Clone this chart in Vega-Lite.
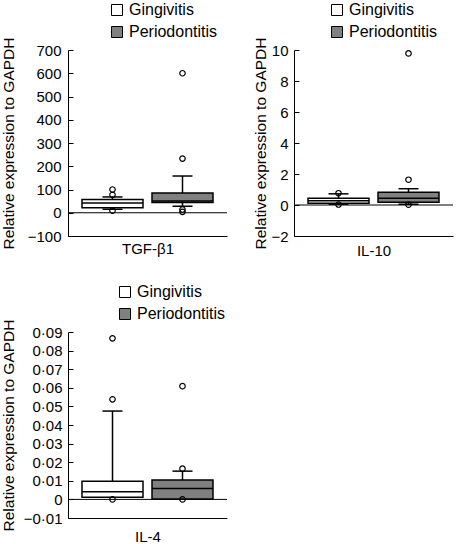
{
  "$schema": "https://vega.github.io/schema/vega-lite/v6.json",
  "padding": {"left": 0, "top": 2, "right": 0, "bottom": 0},
  "background": "white",
  "config": {
    "font": "Liberation Sans",
    "view": {"stroke": null},
    "axis": {"labelColor": "black", "titleColor": "black", "titleFontWeight": "normal", "domainColor": "black", "tickColor": "black", "labelFontSize": 15, "titleFontSize": 15.5, "domainWidth": 1},
    "legend": {"labelColor": "black", "labelFontSize": 16}
  },
  "datasets": {
    "tgf_box": [
      {"group": "Gingivitis", "q1": 22, "median": 42, "q3": 57, "lo": 15, "hi": 68},
      {"group": "Periodontitis", "q1": 44, "median": 51, "q3": 85, "lo": 28, "hi": 158}
    ],
    "tgf_out": [
      {"group": "Gingivitis", "value": 100},
      {"group": "Gingivitis", "value": 77},
      {"group": "Gingivitis", "value": 9},
      {"group": "Periodontitis", "value": 600},
      {"group": "Periodontitis", "value": 233},
      {"group": "Periodontitis", "value": 14},
      {"group": "Periodontitis", "value": 4}
    ],
    "il10_box": [
      {"group": "Gingivitis", "q1": 0.11, "median": 0.28, "q3": 0.43, "lo": 0.05, "hi": 0.72},
      {"group": "Periodontitis", "q1": 0.17, "median": 0.43, "q3": 0.82, "lo": 0.05, "hi": 1.05}
    ],
    "il10_out": [
      {"group": "Gingivitis", "value": 0.76},
      {"group": "Gingivitis", "value": 0.03},
      {"group": "Periodontitis", "value": 9.78},
      {"group": "Periodontitis", "value": 1.63},
      {"group": "Periodontitis", "value": 0.02}
    ],
    "il4_box": [
      {"group": "Gingivitis", "q1": 0.0012, "median": 0.0041, "q3": 0.0098, "lo": 0.0012, "hi": 0.0475},
      {"group": "Periodontitis", "q1": 0.0002, "median": 0.0059, "q3": 0.0104, "lo": 0.0002, "hi": 0.0152}
    ],
    "il4_out": [
      {"group": "Gingivitis", "value": 0.0866},
      {"group": "Gingivitis", "value": 0.0538},
      {"group": "Gingivitis", "value": 0.0},
      {"group": "Periodontitis", "value": 0.0609},
      {"group": "Periodontitis", "value": 0.0165},
      {"group": "Periodontitis", "value": 0.0}
    ],
    "zero": [{"y": 0}]
  },
  "columns": 2,
  "spacing": {"row": 96, "column": 67},
  "bounds": "flush",
  "align": "all",
  "resolve": {"scale": {"fill": "independent", "y": "independent", "x": "independent"}, "legend": {"fill": "independent"}},
  "concat": [
    {
      "width": 159, "height": 186,
      "encoding": {
        "x": {"field": "group", "type": "nominal", "title": "TGF-β1", "scale": {"domain": ["Gingivitis", "Periodontitis"], "paddingInner": 0.1286, "paddingOuter": 0.2}, "axis": {"labels": false, "ticks": false, "grid": false, "titlePadding": 5, "titleFontSize": 15, "titleBaseline": "top"}}
      },
      "layer": [
        {"data": {"name": "zero"}, "mark": {"type": "rule", "color": "black", "strokeWidth": 1}, "encoding": {"x": null, "y": {"field": "y", "type": "quantitative", "title": "Relative expression to GAPDH", "scale": {"domain": [-100, 700], "nice": false, "zero": false}, "axis": {"values": [-100, 0, 100, 200, 300, 400, 500, 600, 700], "format": "d", "tickCount": 20, "labelOverlap": false, "ticks": false, "grid": true, "gridColor": "black", "gridWidth": 1, "gridDash": [5, 400], "gridOpacity": 1, "labelPadding": 7, "titleX": -55, "titleBaseline": "alphabetic"}}}},
        {"data": {"name": "tgf_box"}, "mark": {"type": "rule", "color": "black", "strokeWidth": 1.5}, "encoding": {
          "y": {"field": "lo", "type": "quantitative", "title": "Relative expression to GAPDH"}, "y2": {"field": "hi"}}},
        {"data": {"name": "tgf_box"}, "mark": {"type": "tick", "size": 20, "thickness": 1.5, "color": "black", "opacity": 1}, "encoding": {
          "y": {"field": "hi", "type": "quantitative", "title": "Relative expression to GAPDH"}}},
        {"data": {"name": "tgf_box"}, "mark": {"type": "tick", "size": 20, "thickness": 1.5, "color": "black", "opacity": 1}, "encoding": {
          "y": {"field": "lo", "type": "quantitative", "title": "Relative expression to GAPDH"}}},
        {"data": {"name": "tgf_box"}, "mark": {"type": "bar", "stroke": "black", "strokeWidth": 1.5, "opacity": 1}, "encoding": {
          "y": {"field": "q1", "type": "quantitative", "title": "Relative expression to GAPDH"}, "y2": {"field": "q3"},
          "fill": {"field": "group", "type": "nominal", "scale": {"domain": ["Gingivitis", "Periodontitis"], "range": ["white", "#808080"]}, "legend": {"orient": "none", "legendX": 41, "legendY": -48, "title": null, "symbolType": "square", "symbolSize": 121, "symbolStrokeColor": "black", "symbolStrokeWidth": 1, "labelFontSize": 16, "labelOffset": 4, "rowPadding": 6, "padding": 0, "direction": "vertical"}}}},
        {"data": {"name": "tgf_box"}, "mark": {"type": "tick", "size": 61, "thickness": 1.5, "color": "black", "opacity": 1}, "encoding": {
          "y": {"field": "median", "type": "quantitative", "title": "Relative expression to GAPDH"}}},
        {"data": {"name": "tgf_out"}, "mark": {"type": "point", "shape": "circle", "filled": false, "color": "black", "strokeWidth": 1.2, "size": 30, "opacity": 1}, "encoding": {
          "y": {"field": "value", "type": "quantitative", "title": "Relative expression to GAPDH"}}}
      ]
    },
    {
      "width": 159, "height": 186,
      "encoding": {
        "x": {"field": "group", "type": "nominal", "title": "IL-10", "scale": {"domain": ["Gingivitis", "Periodontitis"], "paddingInner": 0.1286, "paddingOuter": 0.2}, "axis": {"labels": false, "ticks": false, "grid": false, "titlePadding": 7, "titleFontSize": 15, "titleBaseline": "top"}}
      },
      "layer": [
        {"data": {"name": "zero"}, "mark": {"type": "rule", "color": "black", "strokeWidth": 1}, "encoding": {"x": null, "y": {"field": "y", "type": "quantitative", "title": "Relative expression to GAPDH", "scale": {"domain": [-2, 10], "nice": false, "zero": false}, "axis": {"values": [-2, 0, 2, 4, 6, 8, 10], "format": "d", "tickCount": 20, "labelOverlap": false, "ticks": false, "grid": true, "gridColor": "black", "gridWidth": 1, "gridDash": [5, 400], "gridOpacity": 1, "labelPadding": 6, "titleX": -29, "titleBaseline": "alphabetic"}}}},
        {"data": {"name": "il10_box"}, "mark": {"type": "rule", "color": "black", "strokeWidth": 1.5}, "encoding": {
          "y": {"field": "lo", "type": "quantitative", "title": "Relative expression to GAPDH"}, "y2": {"field": "hi"}}},
        {"data": {"name": "il10_box"}, "mark": {"type": "tick", "size": 20, "thickness": 1.5, "color": "black", "opacity": 1}, "encoding": {
          "y": {"field": "hi", "type": "quantitative", "title": "Relative expression to GAPDH"}}},
        {"data": {"name": "il10_box"}, "mark": {"type": "tick", "size": 20, "thickness": 1.5, "color": "black", "opacity": 1}, "encoding": {
          "y": {"field": "lo", "type": "quantitative", "title": "Relative expression to GAPDH"}}},
        {"data": {"name": "il10_box"}, "mark": {"type": "bar", "stroke": "black", "strokeWidth": 1.5, "opacity": 1}, "encoding": {
          "y": {"field": "q1", "type": "quantitative", "title": "Relative expression to GAPDH"}, "y2": {"field": "q3"},
          "fill": {"field": "group", "type": "nominal", "scale": {"domain": ["Gingivitis", "Periodontitis"], "range": ["white", "#808080"]}, "legend": {"orient": "none", "legendX": 35, "legendY": -48, "title": null, "symbolType": "square", "symbolSize": 121, "symbolStrokeColor": "black", "symbolStrokeWidth": 1, "labelFontSize": 16, "labelOffset": 4, "rowPadding": 6, "padding": 0, "direction": "vertical"}}}},
        {"data": {"name": "il10_box"}, "mark": {"type": "tick", "size": 61, "thickness": 1.5, "color": "black", "opacity": 1}, "encoding": {
          "y": {"field": "median", "type": "quantitative", "title": "Relative expression to GAPDH"}}},
        {"data": {"name": "il10_out"}, "mark": {"type": "point", "shape": "circle", "filled": false, "color": "black", "strokeWidth": 1.2, "size": 30, "opacity": 1}, "encoding": {
          "y": {"field": "value", "type": "quantitative", "title": "Relative expression to GAPDH"}}}
      ]
    },
    {
      "width": 159, "height": 186,
      "encoding": {
        "x": {"field": "group", "type": "nominal", "title": "IL-4", "scale": {"domain": ["Gingivitis", "Periodontitis"], "paddingInner": 0.1286, "paddingOuter": 0.2}, "axis": {"labels": false, "ticks": false, "grid": false, "titlePadding": 11, "titleFontSize": 15, "titleBaseline": "top"}}
      },
      "layer": [
        {"data": {"name": "zero"}, "mark": {"type": "rule", "color": "black", "strokeWidth": 1}, "encoding": {"x": null, "y": {"field": "y", "type": "quantitative", "title": "Relative expression to GAPDH", "scale": {"domain": [-0.01, 0.09], "nice": false, "zero": false}, "axis": {"values": [-0.01, 0, 0.01, 0.02, 0.03, 0.04, 0.05, 0.06, 0.07, 0.08, 0.09], "tickCount": 20, "labelExpr": "datum.value === 0 ? '0' : replace(format(datum.value, '.2f'), '.', '·')", "labelOverlap": false, "ticks": false, "grid": true, "gridColor": "black", "gridWidth": 1, "gridDash": [5, 400], "gridOpacity": 1, "labelPadding": 6, "titleX": -55, "titleBaseline": "alphabetic"}}}},
        {"data": {"name": "il4_box"}, "mark": {"type": "rule", "color": "black", "strokeWidth": 1.5}, "encoding": {
          "y": {"field": "lo", "type": "quantitative", "title": "Relative expression to GAPDH"}, "y2": {"field": "hi"}}},
        {"data": {"name": "il4_box"}, "mark": {"type": "tick", "size": 20, "thickness": 1.5, "color": "black", "opacity": 1}, "encoding": {
          "y": {"field": "hi", "type": "quantitative", "title": "Relative expression to GAPDH"}}},
        {"data": {"name": "il4_box"}, "mark": {"type": "bar", "stroke": "black", "strokeWidth": 1.5, "opacity": 1}, "encoding": {
          "y": {"field": "q1", "type": "quantitative", "title": "Relative expression to GAPDH"}, "y2": {"field": "q3"},
          "fill": {"field": "group", "type": "nominal", "scale": {"domain": ["Gingivitis", "Periodontitis"], "range": ["white", "#808080"]}, "legend": {"orient": "none", "legendX": 49, "legendY": -48, "title": null, "symbolType": "square", "symbolSize": 121, "symbolStrokeColor": "black", "symbolStrokeWidth": 1, "labelFontSize": 16, "labelOffset": 4, "rowPadding": 6, "padding": 0, "direction": "vertical"}}}},
        {"data": {"name": "il4_box"}, "mark": {"type": "tick", "size": 61, "thickness": 1.5, "color": "black", "opacity": 1}, "encoding": {
          "y": {"field": "median", "type": "quantitative", "title": "Relative expression to GAPDH"}}},
        {"data": {"name": "il4_out"}, "mark": {"type": "point", "shape": "circle", "filled": false, "color": "black", "strokeWidth": 1.2, "size": 30, "opacity": 1}, "encoding": {
          "y": {"field": "value", "type": "quantitative", "title": "Relative expression to GAPDH"}}}
      ]
    }
  ]
}
